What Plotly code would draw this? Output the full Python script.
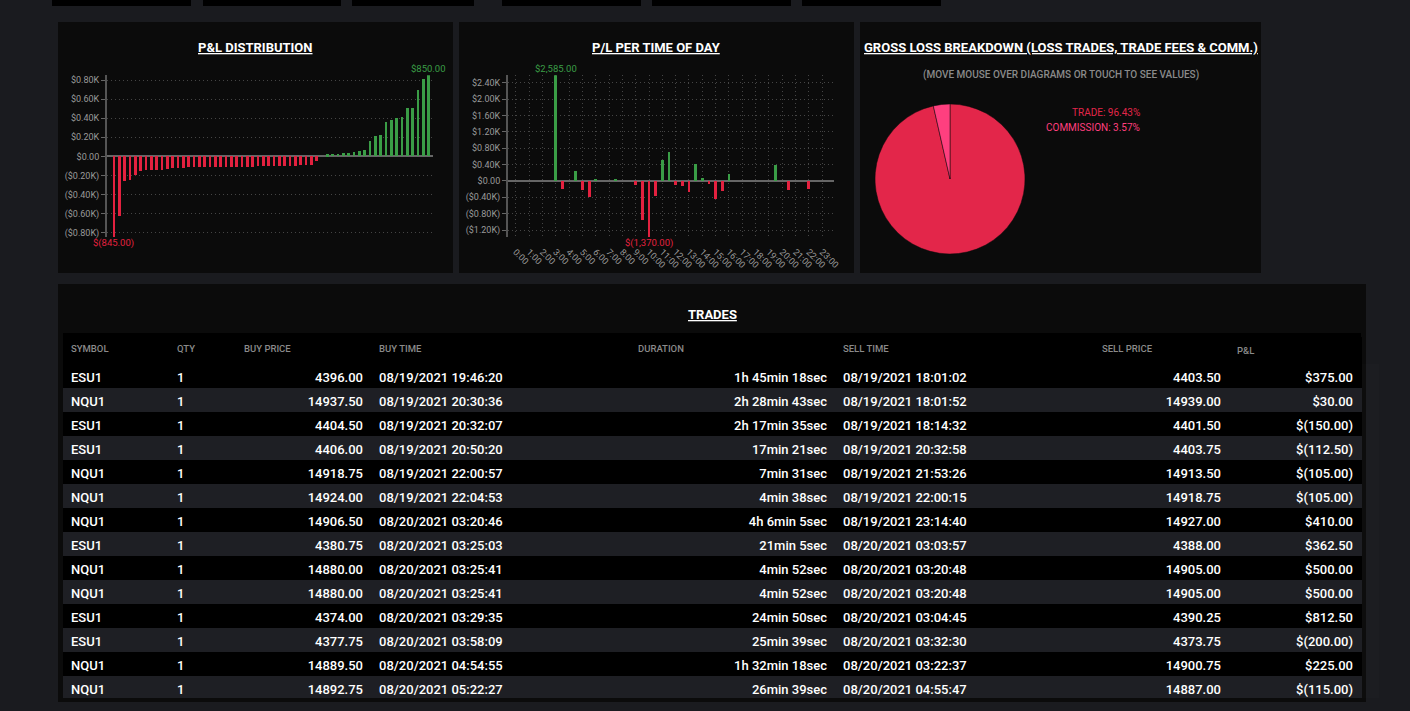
import plotly.graph_objects as go

W, H = 1410, 711

# ---- data ----
# P&L distribution (sorted trade results, $)
dist_pl = [-845, -625, -260, -255, -200, -155, -150, -150, -150, -150,
           -140, -125, -125, -120, -115, -115, -115, -115, -115, -115,
           -115, -115, -115, -115, -110, -110, -110, -105, -105, -105,
           -105, -105, -105, -105, -100, -95, -95, -90, -50, 0,
           20, 25, 25, 30, 30, 40, 50, 62.5, 162.5, 210,
           225, 362.5, 375, 400, 410, 500, 500, 690, 812.5, 850]

# P/L per time of day (half hour buckets)
tod_slots = ["3:00", "3:30", "4:30", "5:00", "5:30", "6:00", "7:30", "9:00", "9:30", "10:00",
             "10:30", "11:00", "11:30", "12:00", "12:30", "13:00", "13:30", "14:00", "14:30",
             "15:00", "15:30", "16:00", "19:30", "20:30", "22:00"]
tod_pl = [2585, -195, 225, -220, -405, 40, 25, -100, -950, -1370,
          -365, 500, 700, -100, -120, -265, 400, 65, -90,
          -440, -245, 160, 375, -235, -210]
hour_labels = ["%d:00" % h for h in range(24)]

# gross loss breakdown
loss_labels = ["TRADE", "COMMISSION"]
loss_pct = [96.43, 3.57]

# trades table
tbl_cols = ["SYMBOL", "QTY", "BUY PRICE", "BUY TIME", "DURATION", "SELL TIME", "SELL PRICE", "P&L"]
symbol = ["ESU1", "NQU1", "ESU1", "ESU1", "NQU1", "NQU1", "NQU1", "ESU1", "NQU1", "NQU1", "ESU1", "ESU1", "NQU1", "NQU1"]
qty = ["1"] * 14
buy_price = ["4396.00", "14937.50", "4404.50", "4406.00", "14918.75", "14924.00", "14906.50",
             "4380.75", "14880.00", "14880.00", "4374.00", "4377.75", "14889.50", "14892.75"]
buy_time = ["08/19/2021 19:46:20", "08/19/2021 20:30:36", "08/19/2021 20:32:07", "08/19/2021 20:50:20",
            "08/19/2021 22:00:57", "08/19/2021 22:04:53", "08/20/2021 03:20:46", "08/20/2021 03:25:03",
            "08/20/2021 03:25:41", "08/20/2021 03:25:41", "08/20/2021 03:29:35", "08/20/2021 03:58:09",
            "08/20/2021 04:54:55", "08/20/2021 05:22:27"]
duration = ["1h 45min 18sec", "2h 28min 43sec", "2h 17min 35sec", "17min 21sec", "7min 31sec",
            "4min 38sec", "4h 6min 5sec", "21min 5sec", "4min 52sec", "4min 52sec", "24min 50sec",
            "25min 39sec", "1h 32min 18sec", "26min 39sec"]
sell_time = ["08/19/2021 18:01:02", "08/19/2021 18:01:52", "08/19/2021 18:14:32", "08/19/2021 20:32:58",
             "08/19/2021 21:53:26", "08/19/2021 22:00:15", "08/19/2021 23:14:40", "08/20/2021 03:03:57",
             "08/20/2021 03:20:48", "08/20/2021 03:20:48", "08/20/2021 03:04:45", "08/20/2021 03:32:30",
             "08/20/2021 03:22:37", "08/20/2021 04:55:47"]
sell_price = ["4403.50", "14939.00", "4401.50", "4403.75", "14913.50", "14918.75", "14927.00",
              "4388.00", "14905.00", "14905.00", "4390.25", "4373.75", "14900.75", "14887.00"]
pl = ["$375.00", "$30.00", "$(150.00)", "$(112.50)", "$(105.00)", "$(105.00)", "$410.00",
      "$362.50", "$500.00", "$500.00", "$812.50", "$(200.00)", "$225.00", "$(115.00)"]

GREEN = '#3a9d46'
RED = '#e3213f'
PAGE = '#1a1b1f'
PANEL = '#0b0b0b'
FONT = 'Roboto'


def fx(x):
    return x / W


def fy(y):
    return 1 - y / H


def money_k(v):
    if v == 0:
        return '$0.00'
    s = '$%.2fK' % (abs(v) / 1000)
    return '(' + s + ')' if v < 0 else s


def money(v):
    s = '{:,.2f}'.format(abs(v))
    return '$(' + s + ')' if v < 0 else '$' + s


def to_hour(s):
    h, m = s.split(':')
    return int(h) + int(m) / 60


fig = go.Figure()

# P&L distribution bars
fig.add_trace(go.Bar(
    x=list(range(len(dist_pl))), y=dist_pl, width=0.5,
    marker=dict(color=[GREEN if v > 0 else RED for v in dist_pl], line_width=0),
    xaxis='x', yaxis='y', showlegend=False))

# P/L per time of day
tod_x = [to_hour(s) for s in tod_slots]
fig.add_trace(go.Bar(
    x=tod_x, y=tod_pl, width=0.22,
    marker=dict(color=[GREEN if v > 0 else RED for v in tod_pl], line_width=0),
    xaxis='x2', yaxis='y2', showlegend=False))

# gross loss pie
pie_cols = ['#e3264a', '#ff3f7f']
fig.add_trace(go.Pie(
    labels=loss_labels, values=loss_pct, sort=False, direction='clockwise',
    marker=dict(colors=pie_cols, line=dict(color='#0b0b0b', width=0.5)),
    textinfo='none', showlegend=False,
    domain=dict(x=[fx(875), fx(1025)], y=[fy(254), fy(104)])))

# trades table
n = len(symbol)
row_fill = ['#000000' if i % 2 == 0 else '#1e1f24' for i in range(n)]
fig.add_trace(go.Table(
    domain=dict(x=[fx(63), fx(1361)], y=[fy(698), fy(337)]),
    columnwidth=[106, 67, 135, 259, 205, 259, 135, 132],
    header=dict(values=tbl_cols, align='left', height=25,
                fill_color='#000000', line_color='#000000',
                font=dict(family=FONT, size=9.5, color='#8a8a8a', weight=500)),
    cells=dict(values=[symbol, qty, buy_price, buy_time, duration, sell_time, sell_price, pl],
               align=['left', 'left', 'right', 'left', 'right', 'left', 'right', 'right'],
               height=24,
               fill_color=[row_fill] * 8, line_color=[row_fill] * 8,
               font=dict(family=FONT, size=13, color='#ffffff', weight=500))))

tick_font = dict(family=FONT, size=9, color='#9a9a9a')
grid = dict(showgrid=True, gridcolor='#454545', griddash='1px,3px', gridwidth=1, automargin=False)

d_ticks = [-800, -600, -400, -200, 0, 200, 400, 600, 800]
t_ticks = [-1200, -800, -400, 0, 400, 800, 1200, 1600, 2000, 2400]

fig.update_layout(
    template='none', showlegend=False,
    width=W, height=H, margin=dict(l=0, r=0, t=0, b=0, pad=0, autoexpand=False),
    paper_bgcolor=PAGE, plot_bgcolor='rgba(0,0,0,0)',
    font=dict(family=FONT), bargap=0,
    xaxis=dict(domain=[fx(107), fx(433)], range=[-1.3, 59.8], anchor='y',
               visible=False, fixedrange=True, automargin=False),
    yaxis=dict(domain=[fy(237), fy(75.3)], range=[-845, 850], anchor='x',
               tickvals=d_ticks, ticktext=[money_k(v) for v in d_ticks],
               tickfont=tick_font, ticks='outside', ticklen=4, tickcolor='#666',
               showline=True, linecolor='#555', linewidth=2,
               zeroline=True, zerolinecolor='#666', zerolinewidth=2, **grid),
    xaxis2=dict(domain=[fx(508), fx(834)], range=[-0.58, 23.88], anchor='y2',
                tickvals=list(range(24)), ticktext=hour_labels, tickangle=45,
                tickfont=tick_font, ticklabelstandoff=7, showline=False, ticks='',
                zeroline=False, **grid),
    yaxis2=dict(domain=[fy(237), fy(75.3)], range=[-1370, 2585], anchor='x2',
                tickvals=t_ticks, ticktext=[money_k(v) for v in t_ticks],
                tickfont=tick_font, ticks='outside', ticklen=4, tickcolor='#666',
                showline=True, linecolor='#555', linewidth=2,
                zeroline=True, zerolinecolor='#666', zerolinewidth=2, **grid),
)

# panels and top buttons
shapes = []
for x0, y0, x1, y1 in [(58, 22, 453, 273), (459, 22, 854, 273), (860, 22, 1261, 273), (58, 284, 1366, 702)]:
    shapes.append(dict(type='rect', xref='paper', yref='paper', x0=fx(x0), x1=fx(x1), y0=fy(y1), y1=fy(y0),
                       fillcolor=PANEL, line_width=0, layer='below'))
# strip above the table header
shapes.append(dict(type='rect', xref='paper', yref='paper', x0=fx(63), x1=fx(1361), y0=fy(337.5), y1=fy(333),
                   fillcolor='#000000', line_width=0, layer='below'))
for x0, x1 in [(52, 191), (203, 341), (352, 474), (502, 641), (652, 791), (802, 941)]:
    shapes.append(dict(type='rect', xref='paper', yref='paper', x0=fx(x0), x1=fx(x1), y0=fy(6), y1=fy(0),
                       fillcolor='#000000', line_width=0, layer='below'))
fig.update_layout(shapes=shapes)

# titles and labels
ann = []
for x, y, txt in [(255.5, 48, 'P&L DISTRIBUTION'), (656.5, 48, 'P/L PER TIME OF DAY'),
                  (1060.5, 48, 'GROSS LOSS BREAKDOWN (LOSS TRADES, TRADE FEES & COMM.)'),
                  (712.5, 315, 'TRADES')]:
    ann.append(dict(x=fx(x), y=fy(y), xref='paper', yref='paper', showarrow=False,
                    xanchor='center', yanchor='middle',
                    text='<b><u>%s</u></b>' % txt, font=dict(family=FONT, size=13, color='#ffffff')))
ann.append(dict(x=fx(1060.5), y=fy(75), xref='paper', yref='paper', showarrow=False,
                xanchor='center', yanchor='middle',
                text='(MOVE MOUSE OVER DIAGRAMS OR TOUCH TO SEE VALUES)',
                font=dict(family=FONT, size=10, color='#8a8a8a', weight=500)))
for i, (lab, p) in enumerate(zip(loss_labels, loss_pct)):
    ann.append(dict(x=fx(1142), y=fy(112 + 16 * i), xref='paper', yref='paper', showarrow=False,
                    xanchor='right', yanchor='middle', text='%s: %.2f%%' % (lab, p),
                    font=dict(family=FONT, size=10, color=pie_cols[i])))

imax = dist_pl.index(max(dist_pl))
imin = dist_pl.index(min(dist_pl))
ann.append(dict(x=imax, y=dist_pl[imax], xref='x', yref='y', showarrow=False, yshift=7,
                text=money(dist_pl[imax]), font=dict(family=FONT, size=9.5, color=GREEN)))
ann.append(dict(x=imin, y=dist_pl[imin], xref='x', yref='y', showarrow=False, yshift=-6,
                text=money(dist_pl[imin]), font=dict(family=FONT, size=9.5, color=RED)))
jmax = tod_pl.index(max(tod_pl))
jmin = tod_pl.index(min(tod_pl))
ann.append(dict(x=tod_x[jmax], y=tod_pl[jmax], xref='x2', yref='y2', showarrow=False, yshift=7,
                text=money(tod_pl[jmax]), font=dict(family=FONT, size=9.5, color=GREEN)))
ann.append(dict(x=tod_x[jmin], y=tod_pl[jmin], xref='x2', yref='y2', showarrow=False, yshift=-6,
                text=money(tod_pl[jmin]), font=dict(family=FONT, size=9.5, color=RED)))
fig.update_layout(annotations=ann)

fig.write_html("out.html", config={'displayModeBar': False},
               post_script="document.body.style.margin='0';document.body.style.overflow='hidden';")
